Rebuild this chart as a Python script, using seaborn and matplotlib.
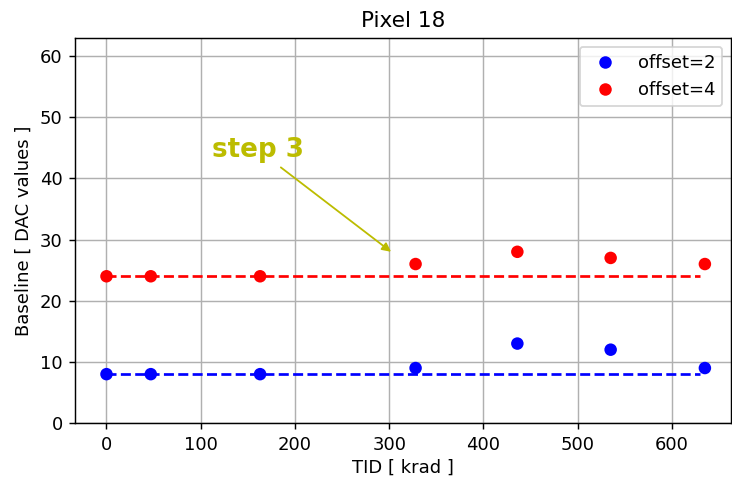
import numpy as np
import pandas as pd
import matplotlib
matplotlib.use('Agg')
import matplotlib.pyplot as plt
import seaborn as sns

# TID steps (krad) and baseline readings for pixel 18
tid = [0, 47, 163, 328, 436, 535, 635]
offset2 = [8, 8, 8, 9, 13, 12, 9]
offset4 = [24, 24, 24, 26, 28, 27, 26]
ref2 = 8
ref4 = 24
line_end = 630

df = pd.DataFrame({
    'tid': tid * 2,
    'baseline': offset2 + offset4,
    'series': ['offset=2'] * len(tid) + ['offset=4'] * len(tid),
})

sns.set_style('ticks')
plt.rcParams['font.family'] = ['DejaVu Sans']
plt.rcParams.update({'text.color': 'black', 'axes.labelcolor': 'black',
                     'xtick.color': 'black', 'ytick.color': 'black'})

fig, ax = plt.subplots(figsize=(732 / 130, 477 / 130), dpi=130)
fig.subplots_adjust(left=0.103, right=0.999, top=0.921, bottom=0.113)

sns.scatterplot(data=df, x='tid', y='baseline', hue='series',
                palette={'offset=2': 'blue', 'offset=4': 'red'},
                s=48, linewidth=0, ax=ax, zorder=3)

# reference levels (pre-irradiation)
sns.lineplot(x=[tid[0], line_end], y=[ref2, ref2], color='blue', linestyle='--',
             ax=ax, legend=False)
sns.lineplot(x=[tid[0], line_end], y=[ref4, ref4], color='red', linestyle='--',
             ax=ax, legend=False)

ax.set_ylim(0, 63)
ax.set_xlim(-33, 663)
ax.set_xticks([0, 100, 200, 300, 400, 500, 600])
ax.set_yticks([0, 10, 20, 30, 40, 50, 60])
ax.grid(True, color='#b0b0b0', linewidth=0.8)
ax.set_axisbelow(True)
for s in ax.spines.values():
    s.set_visible(True)
    s.set_linewidth(0.8)
    s.set_color('black')

ax.set_title('Pixel 18')
ax.set_xlabel('TID [ krad ]', labelpad=3)
ax.set_ylabel('Baseline [ DAC values ]')

ax.annotate('', xy=(302, 28.0), xytext=(185, 41.8),
            arrowprops=dict(arrowstyle='-|>', color='#bcbc00', lw=1,
                            shrinkA=0, shrinkB=0))
ax.text(112, 43.5, 'step 3', color='#bcbc00', fontsize=14.5, fontweight='bold')

ax.legend(loc='upper right', title=None)

fig.savefig('out.png', dpi=130)
